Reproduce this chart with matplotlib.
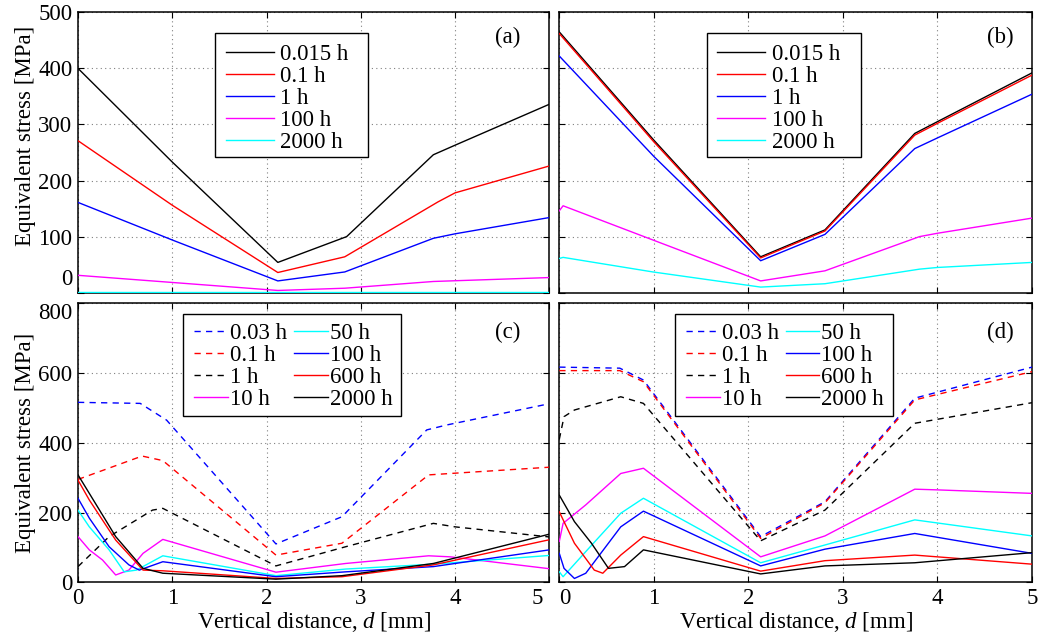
import matplotlib
matplotlib.use("Agg")
import matplotlib.pyplot as plt
from matplotlib.patches import Rectangle
from matplotlib.transforms import ScaledTranslation

plt.rcParams["font.family"] = ["Liberation Serif", "DejaVu Serif"]
plt.rcParams["mathtext.fontset"] = "custom"
plt.rcParams["mathtext.rm"] = "Liberation Serif"
plt.rcParams["mathtext.it"] = "Liberation Serif:italic"

FS = 16.5

# ---------------- data ----------------
# (a) series: time label, x [mm], stress [MPa]
a_labels = ["0.015 h", "0.1 h", "1 h", "100 h", "2000 h"]
a_x_0015 = [0, 1.0, 2.12, 2.85, 3.77, 4.0, 5]
a_y_0015 = [400, 233, 54, 100, 246, 263, 336]
a_x_01 = [0, 1.0, 2.12, 2.83, 3.82, 4.0, 5]
a_y_01 = [271, 156, 36, 64, 162, 178, 226]
a_x_1 = [0, 1.0, 2.12, 2.83, 3.77, 4.0, 5]
a_y_1 = [161, 94, 21, 37, 97, 105, 134]
a_x_100 = [0, 2.12, 2.83, 3.77, 5]
a_y_100 = [31, 4, 8, 20, 27]
a_x_2000 = [0, 5]
a_y_2000 = [0.8, 0.8]

# (b)
b_labels = ["0.015 h", "0.1 h", "1 h", "100 h", "2000 h"]
b_x_0015 = [0, 1.0, 2.13, 2.81, 3.76, 4.0, 5]
b_y_0015 = [465, 272, 64, 112, 284, 305, 392]
b_x_01 = [0, 1.0, 2.13, 2.81, 3.76, 4.0, 5]
b_y_01 = [462, 269, 62, 110, 281, 302, 388]
b_x_1 = [0, 1.0, 2.13, 2.81, 3.76, 4.0, 5]
b_y_1 = [422, 243, 57, 104, 257, 276, 354]
b_x_100 = [0, 0.04, 0.99, 2.13, 2.81, 3.81, 4.0, 5]
b_y_100 = [146, 155, 94, 21, 39, 100, 106, 133]
b_x_2000 = [0, 0.04, 0.99, 2.13, 2.81, 3.81, 4.0, 5]
b_y_2000 = [61, 63, 37, 10, 16, 42, 45, 54]

# (c)
c_labels = ["0.03 h", "0.1 h", "1 h", "10 h", "50 h", "100 h", "600 h", "2000 h"]
c_x_003 = [0, 0.66, 0.94, 2.1, 2.8, 3.7, 3.91, 5]
c_y_003 = [516, 513, 465, 110, 188, 437, 451, 512]
c_x_01 = [0, 0.68, 0.9, 2.1, 2.8, 3.72, 3.95, 5]
c_y_01 = [295, 362, 349, 78, 112, 308, 312, 330]
c_x_1 = [0, 0.33, 0.79, 0.9, 2.1, 2.84, 3.77, 4.0, 5]
c_y_1 = [45, 131, 207, 212, 47, 102, 169, 159, 130]
c_x_10 = [0, 0.12, 0.26, 0.40, 0.54, 0.69, 0.9, 2.1, 2.84, 3.72, 3.95, 5]
c_y_10 = [131, 93, 64, 21, 35, 83, 123, 29, 54, 76, 73, 39]
c_x_50 = [0, 0.12, 0.33, 0.49, 0.62, 0.9, 2.1, 2.84, 3.77, 5]
c_y_50 = [207, 159, 93, 30, 35, 76, 19, 38, 52, 77]
c_x_100 = [0, 0.12, 0.33, 0.54, 0.65, 0.9, 2.1, 2.84, 3.77, 5]
c_y_100 = [241, 184, 102, 50, 35, 59, 16, 30, 45, 93]
c_x_600 = [0, 0.12, 0.40, 0.69, 0.9, 2.1, 2.8, 3.77, 5]
c_y_600 = [293, 236, 121, 35, 33, 11, 16, 50, 122]
c_x_2000 = [0, 0.12, 0.40, 0.69, 0.9, 2.1, 2.8, 3.77, 5]
c_y_2000 = [308, 255, 131, 40, 26, 9, 19, 54, 138]

# (d)
d_labels = ["0.03 h", "0.1 h", "1 h", "10 h", "50 h", "100 h", "600 h", "2000 h"]
d_x_003 = [0, 0.64, 0.89, 2.13, 2.81, 3.76, 5]
d_y_003 = [617, 614, 580, 131, 231, 528, 617]
d_x_01 = [0, 0.64, 0.89, 2.13, 2.81, 3.76, 5]
d_y_01 = [607, 607, 575, 126, 228, 523, 604]
d_x_1 = [0, 0.05, 0.16, 0.65, 0.89, 2.13, 2.81, 3.76, 5]
d_y_1 = [410, 475, 494, 532, 513, 119, 207, 456, 515]
d_x_10 = [0, 0.04, 0.28, 0.65, 0.89, 2.13, 2.81, 3.76, 4.0, 5]
d_y_10 = [117, 169, 222, 312, 327, 73, 133, 267, 265, 255]
d_x_50 = [0, 0.04, 0.28, 0.65, 0.89, 2.13, 2.81, 3.76, 5]
d_y_50 = [30, 16, 88, 198, 241, 56, 107, 179, 133]
d_x_100 = [0, 0.05, 0.16, 0.28, 0.65, 0.89, 2.13, 2.81, 3.76, 5]
d_y_100 = [83, 40, 11, 26, 159, 204, 47, 95, 140, 83]
d_x_600 = [0, 0.16, 0.37, 0.46, 0.65, 0.89, 2.13, 2.81, 3.76, 5]
d_y_600 = [202, 112, 35, 26, 78, 131, 32, 62, 78, 52]
d_x_2000 = [0, 0.16, 0.34, 0.52, 0.69, 0.89, 2.13, 2.81, 3.76, 5]
d_y_2000 = [250, 174, 112, 40, 45, 93, 24, 47, 56, 85]

x_ticks = [0, 1, 2, 3, 4, 5]
top_yticks = [0, 100, 200, 300, 400, 500]
bot_yticks = [0, 200, 400, 600, 800]

# ---------------- styling ----------------
K, R, B, M, C = "#000000", "#ff0000", "#0000ff", "#ff00ff", "#00ffff"
DASH = (0, (4.5, 3.8))
LW = 1.0


def style_axes(ax, ylim, yticks, show_x, show_y):
    ax.set_xlim(0, 5)
    ax.set_ylim(*ylim)
    ax.set_xticks(x_ticks)
    ax.set_yticks(yticks)
    ax.grid(True, color="#808080", linestyle=(0, (1, 3)), linewidth=0.8)
    ax.tick_params(direction="in", length=4, width=0.8, top=True, right=True,
                   labelsize=FS, pad=4)
    if not show_x:
        ax.set_xticklabels([])
    if not show_y:
        ax.set_yticklabels([])
    for s in ax.spines.values():
        s.set_linewidth(1.1)


def shift_label(fig, label, dx_px, dy_px):
    label.set_transform(label.get_transform()
                        + ScaledTranslation(dx_px / 100, dy_px / 100, fig.dpi_scale_trans))


fig = plt.figure(figsize=(10.48, 6.36), dpi=100)
W, H = 1048, 636


def axes_px(l, t, r, b):
    return fig.add_axes([l / W, 1 - b / H, (r - l) / W, (b - t) / H])


ax_a = axes_px(78, 12.3, 549.3, 292.7)
ax_b = axes_px(559.3, 12.3, 1032, 292.7)
ax_c = axes_px(78, 303.3, 549.3, 582.3)
ax_d = axes_px(559.3, 303.3, 1032, 582.3)

# top panels
for ax, xs, ys, labels in [
    (ax_a, [a_x_0015, a_x_01, a_x_1, a_x_100, a_x_2000],
     [a_y_0015, a_y_01, a_y_1, a_y_100, a_y_2000], a_labels),
    (ax_b, [b_x_0015, b_x_01, b_x_1, b_x_100, b_x_2000],
     [b_y_0015, b_y_01, b_y_1, b_y_100, b_y_2000], b_labels),
]:
    for x, y, lab, col in zip(xs, ys, labels, [K, R, B, M, C]):
        ax.plot(x, y, color=col, lw=LW, label=lab, zorder=3)

style_axes(ax_a, (0, 500), top_yticks, False, True)
style_axes(ax_b, (0, 500), top_yticks, False, False)

# bottom panels
bottom_styles = [(B, DASH), (R, DASH), (K, DASH), (M, "-"),
                 (C, "-"), (B, "-"), (R, "-"), (K, "-")]
for ax, xs, ys, labels in [
    (ax_c, [c_x_003, c_x_01, c_x_1, c_x_10, c_x_50, c_x_100, c_x_600, c_x_2000],
     [c_y_003, c_y_01, c_y_1, c_y_10, c_y_50, c_y_100, c_y_600, c_y_2000], c_labels),
    (ax_d, [d_x_003, d_x_01, d_x_1, d_x_10, d_x_50, d_x_100, d_x_600, d_x_2000],
     [d_y_003, d_y_01, d_y_1, d_y_10, d_y_50, d_y_100, d_y_600, d_y_2000], d_labels),
]:
    for x, y, lab, (col, ls) in zip(xs, ys, labels, bottom_styles):
        ax.plot(x, y, color=col, lw=LW, linestyle=ls, label=lab, zorder=3)

style_axes(ax_c, (0, 800), bot_yticks, True, True)
style_axes(ax_d, (0, 800), bot_yticks, True, False)

# axis titles
ylab = "Equivalent stress [MPa]"
xlab = "Vertical distance, $d$ [mm]"
ax_a.set_ylabel(ylab, fontsize=FS)
ax_c.set_ylabel(ylab, fontsize=FS)
ax_a.yaxis.set_label_coords(-0.09, 0.559)
ax_c.yaxis.set_label_coords(-0.09, 0.5)
ax_c.set_xlabel(xlab, fontsize=FS, labelpad=1)
ax_d.set_xlabel(xlab, fontsize=FS, labelpad=1)

# legends: boxed entries, box drawn as its own patch (wide right margin)
leg_kw = dict(fontsize=FS, loc="upper left", borderaxespad=0, frameon=False,
              borderpad=0, labelspacing=0.04)
legend_specs = [
    # ax, entries anchor, box (x0, y0, x1, y1) in axes fraction, options
    (ax_a, (0.3134, 0.886), (0.2907, 0.484, 0.6153, 0.926),
     dict(handlelength=2.1, handletextpad=0.29)),
    (ax_b, (0.3343, 0.886), (0.3118, 0.484, 0.6376, 0.926),
     dict(handlelength=2.1, handletextpad=0.29)),
    (ax_c, (0.2468, 0.928), (0.2222, 0.5971, 0.6847, 0.9616),
     dict(ncol=2, handlelength=1.48, handletextpad=0.08, columnspacing=0.29)),
    (ax_d, (0.2680, 0.928), (0.2448, 0.5971, 0.7066, 0.9616),
     dict(ncol=2, handlelength=1.48, handletextpad=0.08, columnspacing=0.29)),
]
for ax, anchor, (x0, y0, x1, y1), opts in legend_specs:
    ax.add_patch(Rectangle((x0, y0), x1 - x0, y1 - y0, transform=ax.transAxes,
                           facecolor="white", edgecolor="black", lw=1.0,
                           zorder=4.9, clip_on=False))
    lg = ax.legend(bbox_to_anchor=anchor, **opts, **leg_kw)
    lg.set_zorder(5)

# panel tags
for ax, tag, tx, ty in [(ax_a, "(a)", 0.938, 0.912), (ax_b, "(b)", 0.962, 0.912),
                        (ax_c, "(c)", 0.938, 0.897), (ax_d, "(d)", 0.962, 0.897)]:
    ax.text(tx, ty, tag, transform=ax.transAxes, ha="right", va="center", fontsize=FS)

# nudge tick labels that would otherwise collide at the panel joins
shift_label(fig, ax_a.yaxis.get_major_ticks()[0].label1, 0, 16)
shift_label(fig, ax_c.yaxis.get_major_ticks()[-1].label1, 0, -8)
shift_label(fig, ax_c.xaxis.get_major_ticks()[-1].label1, -12, 0)
shift_label(fig, ax_d.xaxis.get_major_ticks()[0].label1, 6, 0)

fig.savefig("out.png", dpi=100)
